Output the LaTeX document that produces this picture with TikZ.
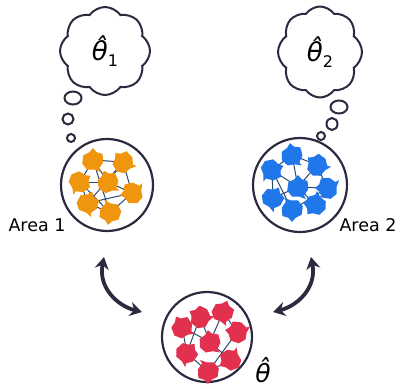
\documentclass[tikz,border=0pt]{standalone}
\usepackage{fontspec}
\setmainfont{DejaVu Sans}
\usetikzlibrary{shapes.symbols,shapes.geometric,arrows.meta}
\definecolor{ink}{HTML}{2D2A3F}
\definecolor{wire}{HTML}{2E4A68}
\definecolor{orangeN}{HTML}{F0950E}
\definecolor{blueN}{HTML}{1F77EA}
\definecolor{redN}{HTML}{E2304F}
\newcommand\thetahat[1]{{\fontsize{26}{26}\selectfont\itshape θ̂}\raisebox{-6pt}{\fontsize{16}{16}\selectfont #1}}
\tikzset{
  pics/neuron/.style={code={
    \fill[#1, scale=1.2] (0,-10) -- (3,-6.5) -- (8,-5) -- (8.5,2) -- (5,7) -- (6.5,10)
      -- (1,8) -- (-5,8) -- (-9,3) -- (-8,-4) -- (-3,-6.5) -- cycle;
  }},
  area/.style={circle, draw=ink, line width=2.2pt, fill=white, inner sep=0pt},
  thought/.style={cloud, cloud puffs=8, cloud puff arc=110, draw=ink, line width=2pt, fill=white,
    inner sep=0pt, cloud ignores aspect},
  puff/.style={ellipse, draw=ink, line width=2pt, fill=white, inner sep=0pt},
  link/.style={wire, line width=1pt},
  swap/.style={ink, line width=3.8pt,
    {Stealth[length=12pt,width=14pt]}-{Stealth[length=12pt,width=14pt]}},
  lbl/.style={font=\fontsize{17.5}{17.5}\selectfont, inner sep=0pt}
}
\begin{document}
\begin{tikzpicture}[x=1pt,y=-1pt]
\useasboundingbox (0,0) rectangle (401,388);

% thought clouds with their trailing bubbles
\node[thought, minimum width=90pt, minimum height=88pt] (c1) at (105,51) {\thetahat{1}};
\node[puff, minimum width=17pt, minimum height=13pt] (c1a) at (73,98) {};
\node[puff, minimum width=11pt, minimum height=11pt] (c1b) at (68,119) {};
\node[puff, minimum width=8pt, minimum height=8pt] (c1c) at (71,138) {};

\node[thought, minimum width=84pt, minimum height=91pt] (c2) at (320,52) {\thetahat{2}};
\node[puff, minimum width=17pt, minimum height=13pt] (c2a) at (339,107) {};
\node[puff, minimum width=11pt, minimum height=12pt] (c2b) at (332,124) {};
\node[puff, minimum width=8pt, minimum height=8pt] (c2c) at (321,136) {};

% brain areas
\node[area, minimum size=92pt] (A1) at (107,185) {};
\node[area, minimum size=94pt] (A2) at (300,185) {};
\node[area, minimum size=90pt] (A3) at (207,337) {};

% area 1 network
\coordinate (o1) at (93,160);  \coordinate (o2) at (123,162);
\coordinate (o3) at (80,182);  \coordinate (o4) at (108,182);
\coordinate (o5) at (132,193); \coordinate (o6) at (88,203);
\coordinate (o7) at (110,213);
\foreach \a/\b in {o1/o2,o1/o3,o1/o4,o1/o7,o2/o4,o2/o5,o2/o6,o3/o4,o3/o7,o3/o6,o4/o5,o5/o6,o5/o7,o6/o7}
  \draw[link] (\a) -- (\b);
\foreach \n/\r in {o1/0,o2/40,o3/-60,o4/20,o5/100,o6/-20,o7/170}
  \pic[rotate=\r] at (\n) {neuron=orangeN};

% area 2 network
\coordinate (m1) at (292,155); \coordinate (m2) at (317,165);
\coordinate (m3) at (272,170); \coordinate (m4) at (298,187);
\coordinate (m5) at (327,188); \coordinate (m6) at (273,198);
\coordinate (m7) at (315,205); \coordinate (m8) at (292,210);
\foreach \a/\b in {m1/m2,m1/m3,m1/m4,m2/m4,m2/m5,m3/m4,m3/m6,m3/m8,m4/m5,m4/m6,m5/m7,m5/m8,m7/m4}
  \draw[link] (\a) -- (\b);
\foreach \n/\r in {m1/10,m2/50,m3/-70,m4/0,m5/90,m6/-30,m7/140,m8/180}
  \pic[rotate=\r] at (\n) {neuron=blueN};

% merged network
\coordinate (r1) at (182,327); \coordinate (r2) at (200,317);
\coordinate (r3) at (223,312); \coordinate (r4) at (237,332);
\coordinate (r5) at (210,342); \coordinate (r6) at (187,353);
\coordinate (r7) at (230,360); \coordinate (r8) at (208,372);
\foreach \a/\b in {r1/r6,r1/r5,r2/r6,r2/r5,r3/r5,r3/r4,r4/r8,r5/r7,r6/r8,r7/r8}
  \draw[link] (\a) -- (\b);
\foreach \n/\r in {r1/30,r2/60,r3/-20,r4/80,r5/10,r6/-40,r7/120,r8/180}
  \pic[rotate=\r] at (\n) {neuron=redN};

% labels
\node[lbl] (l1) at (37,225) {Area 1};
\node[lbl] (l2) at (368,225) {Area 2};
\node[inner sep=0pt, font=\fontsize{25}{25}\selectfont\itshape] (l3) at (263,370) {θ̂};

% exchange arrows
\coordinate (s1) at (104,257); \coordinate (e1) at (142,312);
\coordinate (s2) at (311,257); \coordinate (e2) at (273,312);
\draw[swap] (s1) .. controls (98,288) and (118,306) .. (e1);
\draw[swap] (s2) .. controls (317,288) and (297,306) .. (e2);
\end{tikzpicture}
\end{document}
